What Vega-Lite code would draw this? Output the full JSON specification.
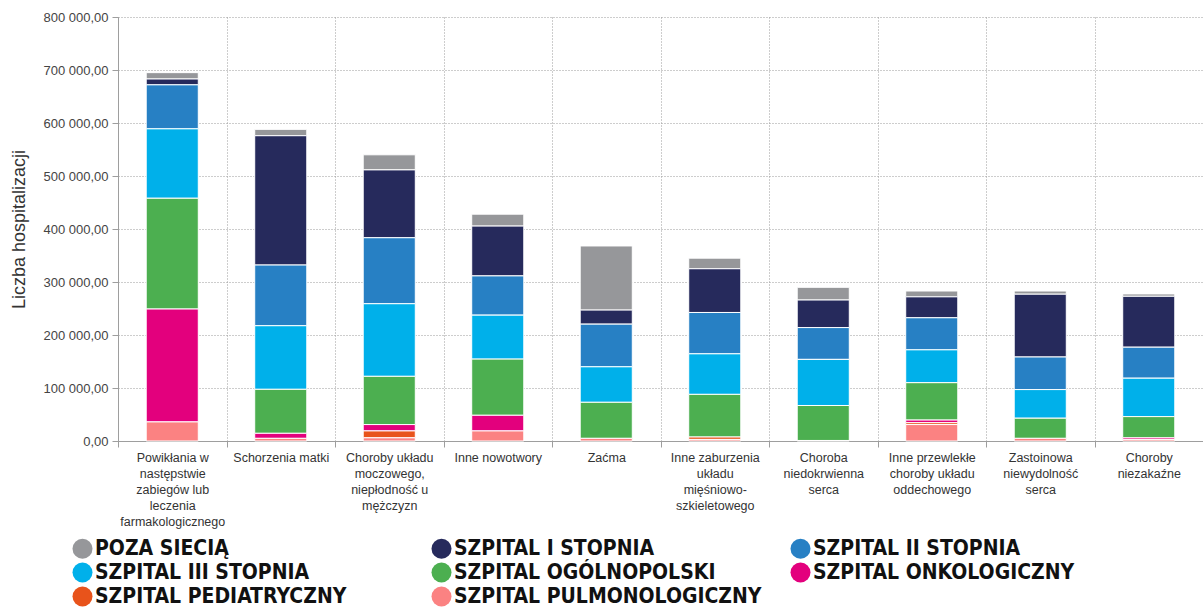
{
  "$schema": "https://vega.github.io/schema/vega-lite/v6.json",
  "width": 1085,
  "height": 424,
  "autosize": "none",
  "padding": {"left": 118, "top": 17, "right": 0, "bottom": 169},
  "background": "white",
  "config": {
    "locale": {"number": {"decimal": ",", "thousands": " ", "grouping": [3], "currency": ["", " zł"]}},
    "view": {"stroke": null},
    "font": "Liberation Sans"
  },
  "data": {
    "values": [
      {"k": "Powikłania w następstwie zabiegów lub leczenia farmakologicznego", "t": "POZA SIECIĄ", "v": 12000},
      {"k": "Powikłania w następstwie zabiegów lub leczenia farmakologicznego", "t": "SZPITAL I STOPNIA", "v": 11000},
      {"k": "Powikłania w następstwie zabiegów lub leczenia farmakologicznego", "t": "SZPITAL II STOPNIA", "v": 83000},
      {"k": "Powikłania w następstwie zabiegów lub leczenia farmakologicznego", "t": "SZPITAL III STOPNIA", "v": 131000},
      {"k": "Powikłania w następstwie zabiegów lub leczenia farmakologicznego", "t": "SZPITAL OGÓLNOPOLSKI", "v": 209000},
      {"k": "Powikłania w następstwie zabiegów lub leczenia farmakologicznego", "t": "SZPITAL ONKOLOGICZNY", "v": 213000},
      {"k": "Powikłania w następstwie zabiegów lub leczenia farmakologicznego", "t": "SZPITAL PULMONOLOGICZNY", "v": 36000},
      {"k": "Schorzenia matki", "t": "POZA SIECIĄ", "v": 12000},
      {"k": "Schorzenia matki", "t": "SZPITAL I STOPNIA", "v": 244000},
      {"k": "Schorzenia matki", "t": "SZPITAL II STOPNIA", "v": 114500},
      {"k": "Schorzenia matki", "t": "SZPITAL III STOPNIA", "v": 120000},
      {"k": "Schorzenia matki", "t": "SZPITAL OGÓLNOPOLSKI", "v": 83000},
      {"k": "Schorzenia matki", "t": "SZPITAL ONKOLOGICZNY", "v": 9500},
      {"k": "Schorzenia matki", "t": "SZPITAL PULMONOLOGICZNY", "v": 5000},
      {"k": "Choroby układu moczowego, niepłodność u mężczyzn", "t": "POZA SIECIĄ", "v": 28500},
      {"k": "Choroby układu moczowego, niepłodność u mężczyzn", "t": "SZPITAL I STOPNIA", "v": 128000},
      {"k": "Choroby układu moczowego, niepłodność u mężczyzn", "t": "SZPITAL II STOPNIA", "v": 124500},
      {"k": "Choroby układu moczowego, niepłodność u mężczyzn", "t": "SZPITAL III STOPNIA", "v": 137000},
      {"k": "Choroby układu moczowego, niepłodność u mężczyzn", "t": "SZPITAL OGÓLNOPOLSKI", "v": 91000},
      {"k": "Choroby układu moczowego, niepłodność u mężczyzn", "t": "SZPITAL ONKOLOGICZNY", "v": 12000},
      {"k": "Choroby układu moczowego, niepłodność u mężczyzn", "t": "SZPITAL PEDIATRYCZNY", "v": 13000},
      {"k": "Choroby układu moczowego, niepłodność u mężczyzn", "t": "SZPITAL PULMONOLOGICZNY", "v": 6000},
      {"k": "Inne nowotwory", "t": "POZA SIECIĄ", "v": 22500},
      {"k": "Inne nowotwory", "t": "SZPITAL I STOPNIA", "v": 94000},
      {"k": "Inne nowotwory", "t": "SZPITAL II STOPNIA", "v": 74000},
      {"k": "Inne nowotwory", "t": "SZPITAL III STOPNIA", "v": 83000},
      {"k": "Inne nowotwory", "t": "SZPITAL OGÓLNOPOLSKI", "v": 106000},
      {"k": "Inne nowotwory", "t": "SZPITAL ONKOLOGICZNY", "v": 29500},
      {"k": "Inne nowotwory", "t": "SZPITAL PULMONOLOGICZNY", "v": 19000},
      {"k": "Zaćma", "t": "POZA SIECIĄ", "v": 121000},
      {"k": "Zaćma", "t": "SZPITAL I STOPNIA", "v": 26500},
      {"k": "Zaćma", "t": "SZPITAL II STOPNIA", "v": 80500},
      {"k": "Zaćma", "t": "SZPITAL III STOPNIA", "v": 67000},
      {"k": "Zaćma", "t": "SZPITAL OGÓLNOPOLSKI", "v": 68000},
      {"k": "Zaćma", "t": "SZPITAL PULMONOLOGICZNY", "v": 5000},
      {"k": "Inne zaburzenia układu mięśniowo-szkieletowego", "t": "POZA SIECIĄ", "v": 20000},
      {"k": "Inne zaburzenia układu mięśniowo-szkieletowego", "t": "SZPITAL I STOPNIA", "v": 82500},
      {"k": "Inne zaburzenia układu mięśniowo-szkieletowego", "t": "SZPITAL II STOPNIA", "v": 78000},
      {"k": "Inne zaburzenia układu mięśniowo-szkieletowego", "t": "SZPITAL III STOPNIA", "v": 76500},
      {"k": "Inne zaburzenia układu mięśniowo-szkieletowego", "t": "SZPITAL OGÓLNOPOLSKI", "v": 80500},
      {"k": "Inne zaburzenia układu mięśniowo-szkieletowego", "t": "SZPITAL PEDIATRYCZNY", "v": 4500},
      {"k": "Inne zaburzenia układu mięśniowo-szkieletowego", "t": "SZPITAL PULMONOLOGICZNY", "v": 3000},
      {"k": "Choroba niedokrwienna serca", "t": "POZA SIECIĄ", "v": 24000},
      {"k": "Choroba niedokrwienna serca", "t": "SZPITAL I STOPNIA", "v": 52000},
      {"k": "Choroba niedokrwienna serca", "t": "SZPITAL II STOPNIA", "v": 60000},
      {"k": "Choroba niedokrwienna serca", "t": "SZPITAL III STOPNIA", "v": 87000},
      {"k": "Choroba niedokrwienna serca", "t": "SZPITAL OGÓLNOPOLSKI", "v": 66000},
      {"k": "Choroba niedokrwienna serca", "t": "SZPITAL PULMONOLOGICZNY", "v": 1000},
      {"k": "Inne przewlekłe choroby układu oddechowego", "t": "POZA SIECIĄ", "v": 11000},
      {"k": "Inne przewlekłe choroby układu oddechowego", "t": "SZPITAL I STOPNIA", "v": 39500},
      {"k": "Inne przewlekłe choroby układu oddechowego", "t": "SZPITAL II STOPNIA", "v": 60500},
      {"k": "Inne przewlekłe choroby układu oddechowego", "t": "SZPITAL III STOPNIA", "v": 62000},
      {"k": "Inne przewlekłe choroby układu oddechowego", "t": "SZPITAL OGÓLNOPOLSKI", "v": 70500},
      {"k": "Inne przewlekłe choroby układu oddechowego", "t": "SZPITAL ONKOLOGICZNY", "v": 5000},
      {"k": "Inne przewlekłe choroby układu oddechowego", "t": "SZPITAL PEDIATRYCZNY", "v": 3500},
      {"k": "Inne przewlekłe choroby układu oddechowego", "t": "SZPITAL PULMONOLOGICZNY", "v": 31000},
      {"k": "Zastoinowa niewydolność serca", "t": "POZA SIECIĄ", "v": 6000},
      {"k": "Zastoinowa niewydolność serca", "t": "SZPITAL I STOPNIA", "v": 118500},
      {"k": "Zastoinowa niewydolność serca", "t": "SZPITAL II STOPNIA", "v": 61500},
      {"k": "Zastoinowa niewydolność serca", "t": "SZPITAL III STOPNIA", "v": 54000},
      {"k": "Zastoinowa niewydolność serca", "t": "SZPITAL OGÓLNOPOLSKI", "v": 38000},
      {"k": "Zastoinowa niewydolność serca", "t": "SZPITAL PULMONOLOGICZNY", "v": 5000},
      {"k": "Choroby niezakaźne", "t": "POZA SIECIĄ", "v": 4500},
      {"k": "Choroby niezakaźne", "t": "SZPITAL I STOPNIA", "v": 96000},
      {"k": "Choroby niezakaźne", "t": "SZPITAL II STOPNIA", "v": 58500},
      {"k": "Choroby niezakaźne", "t": "SZPITAL III STOPNIA", "v": 72500},
      {"k": "Choroby niezakaźne", "t": "SZPITAL OGÓLNOPOLSKI", "v": 40000},
      {"k": "Choroby niezakaźne", "t": "SZPITAL ONKOLOGICZNY", "v": 3000},
      {"k": "Choroby niezakaźne", "t": "SZPITAL PULMONOLOGICZNY", "v": 3000}
    ]
  },
  "mark": {"type": "bar", "width": {"band": 0.48}, "stroke": "white", "strokeWidth": 1},
  "encoding": {
    "x": {
      "field": "k",
      "type": "nominal",
      "sort": null,
      "scale": {"paddingInner": 0, "paddingOuter": 0},
      "axis": {
        "title": null,
        "labelAngle": 0,
        "tickBand": "extent",
        "grid": true,
        "gridDash": [1, 2],
        "gridColor": "#9a9a9a",
        "domainColor": "#9e9e9e",
        "tickColor": "#9e9e9e",
        "tickSize": 6,
        "labelPadding": 4,
        "labelFontSize": 12.5,
        "labelColor": "#333333",
        "labelLineHeight": 16,
        "labelBaseline": "top",
        "labelLimit": 200,
        "labelExpr": "{'Powikłania w następstwie zabiegów lub leczenia farmakologicznego': ['Powikłania w','następstwie','zabiegów lub','leczenia','farmakologicznego'], 'Schorzenia matki': ['Schorzenia matki'], 'Choroby układu moczowego, niepłodność u mężczyzn': ['Choroby układu','moczowego,','niepłodność u','mężczyzn'], 'Inne nowotwory': ['Inne nowotwory'], 'Zaćma': ['Zaćma'], 'Inne zaburzenia układu mięśniowo-szkieletowego': ['Inne zaburzenia','układu','mięśniowo-','szkieletowego'], 'Choroba niedokrwienna serca': ['Choroba','niedokrwienna','serca'], 'Inne przewlekłe choroby układu oddechowego': ['Inne przewlekłe','choroby układu','oddechowego'], 'Zastoinowa niewydolność serca': ['Zastoinowa','niewydolność','serca'], 'Choroby niezakaźne': ['Choroby','niezakaźne']}[datum.label]"
      }
    },
    "y": {
      "field": "v",
      "type": "quantitative",
      "stack": "zero",
      "scale": {"domain": [0, 800000], "nice": false},
      "axis": {
        "title": "Liczba hospitalizacji",
        "titleFontSize": 18,
        "titleFontWeight": "normal",
        "titleColor": "#333333",
        "titlePadding": 14,
        "values": [0, 100000, 200000, 300000, 400000, 500000, 600000, 700000, 800000],
        "format": ",.2f",
        "labelFontSize": 13,
        "labelColor": "#444444",
        "labelPadding": 4,
        "tickSize": 6,
        "tickColor": "#9e9e9e",
        "domainColor": "#9e9e9e",
        "grid": true,
        "gridDash": [1, 2],
        "gridColor": "#9a9a9a"
      }
    },
    "color": {
      "field": "t",
      "type": "nominal",
      "sort": ["POZA SIECIĄ", "SZPITAL I STOPNIA", "SZPITAL II STOPNIA", "SZPITAL III STOPNIA", "SZPITAL OGÓLNOPOLSKI", "SZPITAL ONKOLOGICZNY", "SZPITAL PEDIATRYCZNY", "SZPITAL PULMONOLOGICZNY"],
      "scale": {
        "domain": ["POZA SIECIĄ", "SZPITAL I STOPNIA", "SZPITAL II STOPNIA", "SZPITAL III STOPNIA", "SZPITAL OGÓLNOPOLSKI", "SZPITAL ONKOLOGICZNY", "SZPITAL PEDIATRYCZNY", "SZPITAL PULMONOLOGICZNY"],
        "range": ["#96979a", "#262a5c", "#2780c4", "#00b0ea", "#4caf50", "#e3007d", "#e8531b", "#fb8282"]
      },
      "legend": {
        "title": null,
        "orient": "none",
        "legendX": -46,
        "legendY": 521,
        "direction": "horizontal",
        "columns": 3,
        "gridAlign": "all",
        "symbolType": "circle",
        "symbolSize": 400,
        "symbolStrokeWidth": 0,
        "labelFont": "DejaVu Sans Condensed, Roboto, Liberation Sans, sans-serif",
        "labelFontWeight": "bold",
        "labelFontSize": 21,
        "labelColor": "#111111",
        "labelOffset": 2,
        "labelLimit": 400,
        "rowPadding": 2,
        "columnPadding": 28
      }
    }
  }
}
